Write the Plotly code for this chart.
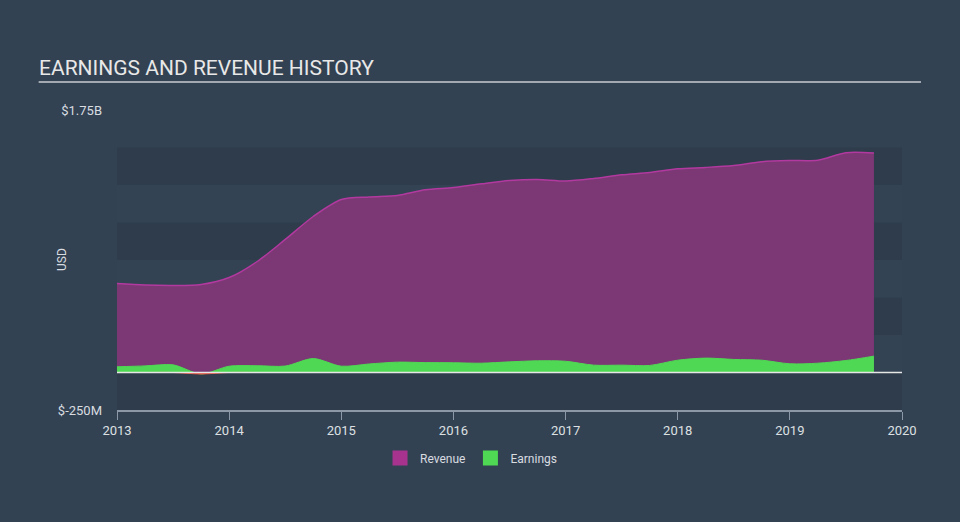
import plotly.graph_objects as go
import numpy as np

years = [2013.0, 2013.25, 2013.5, 2013.75, 2014.0, 2014.25, 2014.5, 2014.75,
         2015.0, 2015.25, 2015.5, 2015.75, 2016.0, 2016.25, 2016.5, 2016.75,
         2017.0, 2017.25, 2017.5, 2017.75, 2018.0, 2018.25, 2018.5, 2018.75,
         2019.0, 2019.25, 2019.5, 2019.75]
revenue_m = [593, 583, 580, 587, 633, 740, 887, 1040,
             1153, 1170, 1180, 1218, 1233, 1258, 1280, 1287,
             1276, 1293, 1318, 1333, 1358, 1367, 1380, 1405,
             1413, 1415, 1465, 1463]
earnings_m = [38, 44, 51, -10, 42, 45, 43, 93,
              42, 57, 69, 66, 65, 62, 71, 78,
              75, 49, 49, 47, 82, 96, 87, 82,
              58, 62, 80, 109]
year_ticks = [2013, 2014, 2015, 2016, 2017, 2018, 2019, 2020]
y_tick_vals_m = [-250, 1750]
y_tick_text = ["$-250M", "$1.75B"]
band_edges_m = [-250, 0, 250, 500, 750, 1000, 1250, 1500]

REV_LINE = "#b2399f"
REV_FILL = "#7b3874"
REV_LEG = "#a8338f"
EARN = "#4fd853"

rev = np.array(revenue_m) * 1e6
earn = np.array(earnings_m) * 1e6
neg = np.minimum(earn, 0)

fig = go.Figure()
fig.add_trace(go.Scatter(
    x=years, y=rev, name="Revenue", mode="lines",
    line=dict(color=REV_LINE, width=1.5, shape="spline", smoothing=0.8),
    fill="tozeroy", fillcolor=REV_FILL, hoverinfo="skip", showlegend=False))
fig.add_trace(go.Scatter(
    x=years, y=earn, name="Earnings", mode="lines",
    line=dict(color=EARN, width=1, shape="spline", smoothing=0.8),
    fill="tozeroy", fillcolor=EARN, hoverinfo="skip", showlegend=False))
fig.add_trace(go.Scatter(
    x=years, y=neg, name="neg", mode="lines",
    line=dict(color="#e8493a", width=1, shape="spline", smoothing=0.8),
    fill="tozeroy", fillcolor="#e8493a", hoverinfo="skip", showlegend=False))
# legend entries
fig.add_trace(go.Scatter(x=[None], y=[None], name="Revenue", mode="markers",
                         marker=dict(symbol="square", size=15, color=REV_LEG, line=dict(width=0))))
fig.add_trace(go.Scatter(x=[None], y=[None], name="Earnings", mode="markers",
                         marker=dict(symbol="square", size=15, color=EARN, line=dict(width=0))))

shapes = []
for i in range(len(band_edges_m) - 1):
    col = "#2e3c4b" if i % 2 == 0 else "#334353"
    shapes.append(dict(type="rect", xref="paper", yref="y", x0=0, x1=1,
                       y0=band_edges_m[i] * 1e6, y1=band_edges_m[i + 1] * 1e6,
                       fillcolor=col, line=dict(width=0), layer="below"))
shapes.append(dict(type="line", xref="paper", yref="y", x0=0, x1=1, y0=0, y1=0,
                   line=dict(color="#e6e6e6", width=1.5)))
shapes.append(dict(type="line", xref="paper", yref="paper", x0=-0.0998, x1=1.0242,
                   y0=1.093, y1=1.093, line=dict(color="#a3a9b0", width=2)))
fig.update_layout(shapes=shapes)

fig.add_annotation(text="USD", xref="paper", yref="paper", x=(62 - 117) / 785, y=0.5,
                   textangle=-90, showarrow=False, font=dict(size=12, color="#d8dce0"),
                   xanchor="center", yanchor="middle")

fig.update_layout(
    width=960, height=522,
    margin=dict(l=117, r=58, t=110, b=112),
    paper_bgcolor="#334252", plot_bgcolor="rgba(0,0,0,0)",
    font=dict(family="Roboto", color="#d8dce0", size=12),
    title=dict(text="EARNINGS AND REVENUE HISTORY", x=39 / 960, xanchor="left",
               y=1 - 68 / 522, yanchor="middle", font=dict(size=21, color="#e8e8e8")),
    xaxis=dict(range=[2013, 2020], tickvals=year_ticks, ticktext=[str(y) for y in year_ticks],
               showgrid=False, zeroline=False, showline=True, linecolor="#8c98a5", linewidth=1.5,
               ticks="outside", ticklen=8, tickcolor="#8c98a5", tickfont=dict(size=13, color="#dde0e3")),
    yaxis=dict(range=[-250e6, 1750e6], tickvals=[v * 1e6 for v in y_tick_vals_m], ticktext=y_tick_text,
               showgrid=False, zeroline=False, showline=False, ticks="", ticklabelstandoff=14,
               tickfont=dict(size=13, color="#d8dce0")),
    legend=dict(orientation="h", x=0.451, xanchor="center", y=-0.16, yanchor="middle",
                font=dict(size=12, color="#d8dce0"), bgcolor="rgba(0,0,0,0)", itemwidth=30),
    showlegend=True,
)
fig.write_html("out.html", config={"displayModeBar": False},
               post_script="document.body.style.margin='0';document.body.style.overflow='hidden';")
